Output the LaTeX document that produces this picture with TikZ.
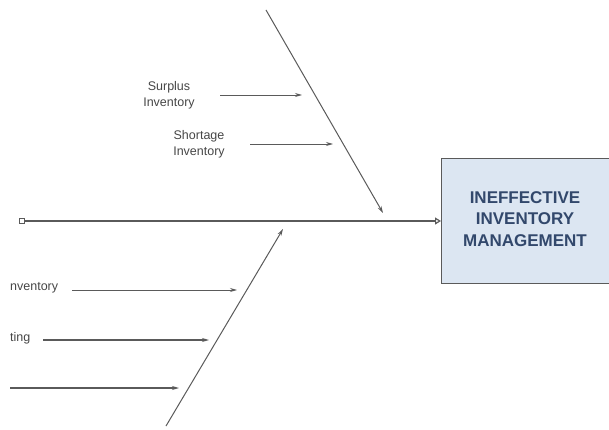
\documentclass[tikz,border=0pt]{standalone}
\usepackage{fontspec}
\setmainfont{Liberation Sans}
\usetikzlibrary{arrows.meta}
\definecolor{linegray}{RGB}{90,90,90}
\definecolor{txtgray}{RGB}{70,70,70}
\definecolor{boxfill}{RGB}{220,230,242}
\definecolor{boxtext}{RGB}{50,72,108}
\tikzset{
  lbl/.style={text=txtgray, font=\fontsize{12.5}{16}\selectfont, align=center, inner sep=1pt},
  cause/.style={draw=linegray, line width=0.9pt, -{Stealth[length=7pt,width=4pt]}},
  bone/.style={draw=linegray, line width=1pt, -{Stealth[length=7pt,width=4pt]}},
  effect/.style={draw=linegray, line width=0.9pt, fill=boxfill, minimum width=175pt, minimum height=125pt, inner sep=0pt,
    text=boxtext, font=\bfseries\fontsize{17}{21.5}\selectfont, align=center}
}
\begin{document}
\begin{tikzpicture}[x=1pt,y=-1pt]
\useasboundingbox (0,0) rectangle (609,430);
% effect box
\node[effect, anchor=north west] (eff) at (441,158) {};
\node[text=boxtext, font=\bfseries\fontsize{17}{21.5}\selectfont, align=center, inner sep=0pt] (efftext) at (525,219) {INEFFECTIVE\\INVENTORY\\MANAGEMENT};
% spine
\node[draw=linegray, line width=0.6pt, minimum size=5pt, inner sep=0pt, fill=white] (sq) at (22,221) {};
\draw[draw=linegray, line width=1.2pt, -{Triangle[open,length=6pt,width=7pt]}] (sq.east) -- (eff.west |- sq.east);
% upper bone
\coordinate (ut) at (266,10);
\coordinate (uh) at (383,213);
\draw[bone] (ut) -- (uh);
% lower bone
\coordinate (lt) at (166,426);
\coordinate (lh) at (283,229);
\draw[bone] (lt) -- (lh);
% upper causes
\node[lbl] (surplus) at (169,95) {Surplus\\Inventory};
\coordinate (s1) at (220,95);
\coordinate (s2) at (302,95);
\draw[cause] (s1) -- (s2);
\node[lbl] (shortage) at (199,144) {Shortage\\Inventory};
\coordinate (h1) at (250,144);
\coordinate (h2) at (333,144);
\draw[cause] (h1) -- (h2);
% lower causes
\node[lbl, anchor=west] (c1) at (9,288) {nventory};
\coordinate (c1s) at (72,290);
\coordinate (c1e) at (237,290);
\draw[cause] (c1s) -- (c1e);
\node[lbl, anchor=west] (c2) at (9,338) {ting};
\coordinate (c2s) at (43,340);
\coordinate (c2e) at (209,340);
\draw[cause, line width=1.3pt] (c2s) -- (c2e);
\coordinate (c3s) at (10,388);
\coordinate (c3e) at (179,388);
\draw[cause, line width=1.3pt] (c3s) -- (c3e);
\end{tikzpicture}
\end{document}
